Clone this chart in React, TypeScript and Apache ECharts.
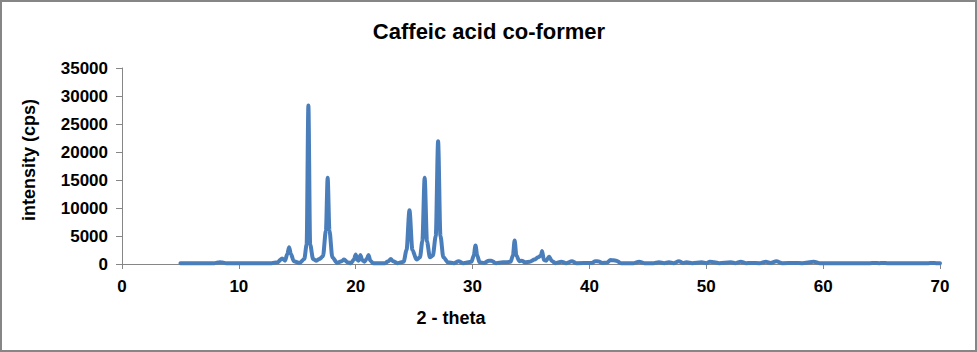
import React, { useEffect, useRef } from "react";
import * as echarts from "echarts";

const chartTitle = "Caffeic acid co-former";
const xName = "2 - theta";
const yName = "intensity (cps)";

const twoTheta = [
  5, 7.9, 8.2, 8.4, 8.6, 8.9, 12.8, 13.3, 13.7, 13.95, 14.15, 14.3, 14.45, 14.7, 15.2, 15.6, 15.8, 15.95, 16.1,
  16.35, 16.6, 16.9, 17.2, 17.45, 17.6, 17.75, 18.0, 18.4, 18.8, 19.0, 19.3, 19.6, 19.85, 20.0, 20.15, 20.25,
  20.4, 20.55, 20.75, 20.95, 21.1, 21.25, 21.5, 22.5, 22.8, 23.0, 23.2, 23.6, 24.1, 24.35, 24.6, 24.85, 25.2,
  25.5, 25.7, 25.9, 26.1, 26.35, 26.6, 26.85, 27.05, 27.25, 27.5, 27.9, 28.4, 28.8, 29.2, 29.9, 30.1, 30.25,
  30.4, 30.6, 31.0, 31.4, 31.6, 32.0, 32.6, 32.9, 33.25, 33.45, 33.6, 33.75, 34.0, 34.2, 34.5, 34.9, 35.3,
  35.6, 35.85, 35.95, 36.1, 36.3, 36.55, 36.8, 37.1, 37.6, 38.0, 38.5, 38.9, 40.2, 40.5, 40.8, 41.1, 41.5,
  41.8, 42.05, 42.3, 42.7, 43.8, 44.25, 44.7, 45.5, 45.95, 46.4, 46.8, 47.2, 47.65, 48.0, 48.3, 48.8, 49.6,
  50.0, 50.3, 50.7, 51.1, 52.1, 52.5, 52.95, 53.4, 53.8, 54.6, 55.1, 55.5, 56.0, 56.5, 57.6, 58.2, 59.2,
  59.7, 64.0, 64.4, 64.8, 65.1, 65.5, 69.0, 69.35, 69.7, 70,
];
const intensity = [
  150, 150, 250, 300, 250, 150, 150, 300, 1000, 600, 1800, 3000, 1800, 500, 200, 900, 3500, 28300, 3500,
  900, 600, 900, 1400, 6000, 15400, 6000, 1200, 200, 500, 800, 300, 150, 800, 1700, 700, 600,
  1600, 700, 400, 900, 1600, 600, 150, 150, 500, 900, 500, 150, 400, 2500, 9600, 2500, 800,
  1200, 4000, 15400, 4000, 1200, 1500, 5000, 21900, 5000, 1200, 300, 150, 500, 150, 400, 1500, 3300,
  1500, 300, 200, 600, 600, 150, 300, 300, 400, 1500, 4200, 1500, 500, 600, 300, 400, 800,
  1200, 1500, 2300, 700, 600, 1300, 500, 150, 400, 150, 500, 150, 200, 500, 450, 200, 250,
  700, 650, 600, 150, 150, 400, 150, 150, 300, 150, 300, 150, 500, 200, 300, 150, 300,
  150, 400, 300, 150, 300, 150, 400, 150, 200, 150, 400, 200, 500, 150, 200, 150, 400,
  150, 150, 200, 150, 200, 150, 150, 200, 150, 150,
];

const xTicks = { min: 0, max: 70, interval: 10 };
const yTicks = { min: 0, max: 35000, interval: 5000 };

export default function App() {
  const ref = useRef<HTMLDivElement>(null);
  useEffect(() => {
    if (!ref.current) return;
    const chart = echarts.init(ref.current, null, { renderer: "svg" });
    const data = twoTheta.map((t, i) => [t, intensity[i]]);
    const font = "'Liberation Sans', Arial, sans-serif";
    chart.setOption({
      animation: false,
      backgroundColor: "#ffffff",
      grid: { left: 122, right: 37, top: 68, bottom: 88, containLabel: false },
      xAxis: {
        type: "value",
        min: xTicks.min,
        max: xTicks.max,
        interval: xTicks.interval,
        axisLine: { show: true, onZero: false, lineStyle: { color: "#868686", width: 1 } },
        axisTick: { show: true, length: 5, lineStyle: { color: "#868686" } },
        splitLine: { show: false },
        axisLabel: {
          color: "#000",
          fontSize: 17,
          fontWeight: "bold",
          fontFamily: font,
          margin: 14,
          formatter: (v: number) => String(v),
        },
      },
      yAxis: {
        type: "value",
        min: yTicks.min,
        max: yTicks.max,
        interval: yTicks.interval,
        axisLine: { show: true, lineStyle: { color: "#868686", width: 1 } },
        axisTick: { show: true, length: 6, lineStyle: { color: "#868686" } },
        splitLine: { show: false },
        axisLabel: {
          color: "#000",
          fontSize: 17,
          fontWeight: "bold",
          fontFamily: font,
          margin: 14,
          formatter: (v: number) => String(v),
        },
      },
      series: [
        {
          type: "line",
          data,
          showSymbol: false,
          symbol: "none",
          smooth: 0.3,
          smoothMonotone: "x",
          lineStyle: { color: "#4A7EBB", width: 4, join: "round", cap: "round" },
          itemStyle: { color: "#4A7EBB" },
        },
      ],
      graphic: [
        {
          type: "rect",
          shape: { x: 1, y: 1, width: 975, height: 350 },
          style: { fill: "none", stroke: "#868686", lineWidth: 2 },
          silent: true,
        },
        {
          type: "text",
          x: 489,
          y: 31,
          style: {
            text: chartTitle,
            fill: "#000",
            font: `bold 22px ${font}`,
            textAlign: "center",
            textVerticalAlign: "middle",
          },
        },
        {
          type: "text",
          x: 451,
          y: 318,
          style: {
            text: xName,
            fill: "#000",
            font: `bold 18px ${font}`,
            textAlign: "center",
            textVerticalAlign: "middle",
          },
        },
        {
          type: "text",
          x: 29,
          y: 160,
          rotation: Math.PI / 2,
          style: {
            text: yName,
            fill: "#000",
            font: `bold 18px ${font}`,
            textAlign: "center",
            textVerticalAlign: "middle",
          },
        },
      ],
    });
    return () => chart.dispose();
  }, []);
  return (
    <div
      ref={ref}
      style={{ position: "fixed", left: 0, top: 0, width: 977, height: 352 }}
    />
  );
}
